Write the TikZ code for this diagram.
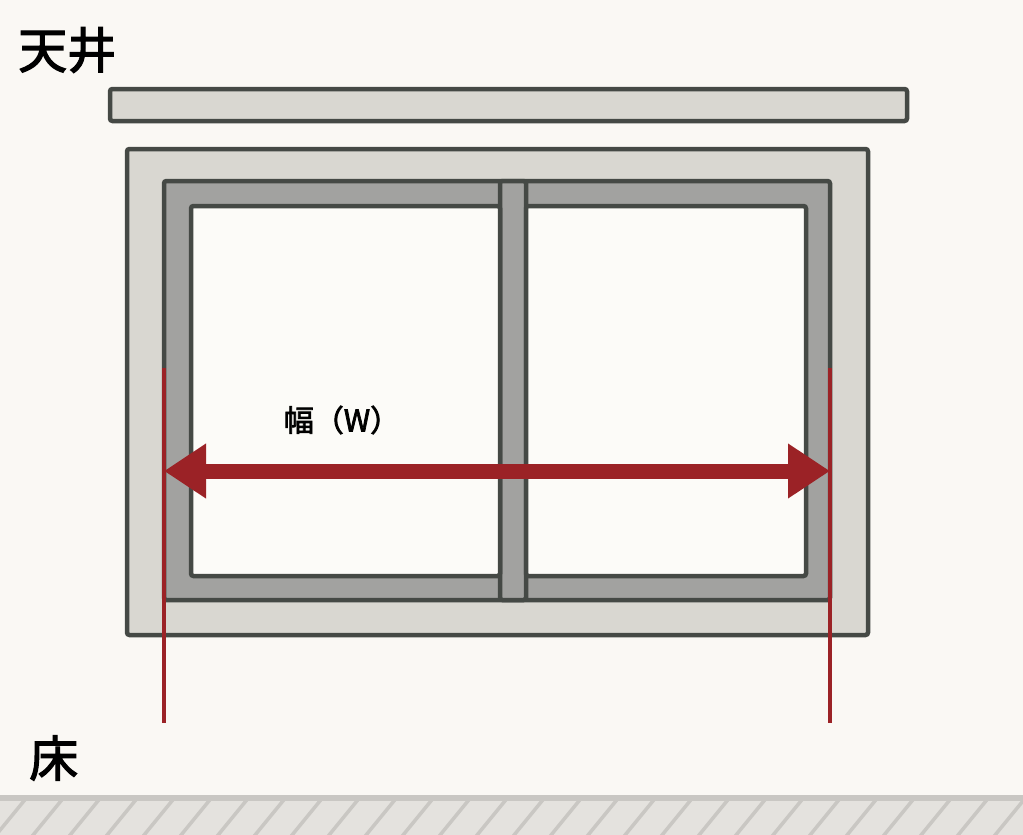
\documentclass[tikz,border=0pt]{standalone}
\usepackage{fontspec}
\newfontfamily\jpfont[AutoFakeBold=2.5]{Noto Sans CJK JP}
\usetikzlibrary{arrows.meta}

\definecolor{wall}{HTML}{FAF8F4}
\definecolor{edge}{HTML}{454945}
\definecolor{framefill}{HTML}{D9D7D1}
\definecolor{sashfill}{HTML}{A2A2A0}
\definecolor{glass}{HTML}{FCFBF8}
\definecolor{dimred}{HTML}{9B2226}
\definecolor{floorline}{HTML}{C9C7C3}
\definecolor{floorfill}{HTML}{E4E2DE}

\tikzset{
    part/.style={draw=edge, line width=4.5pt, rounded corners=2.5pt},
    label/.style={text=black, inner sep=0pt, font=\jpfont\bfseries},
    dimline/.style={draw=dimred, line width=3.5pt},
}

\begin{document}
\begin{tikzpicture}[x=1pt, y=-1pt]

\useasboundingbox (0,0) rectangle (1023,835);
\fill [wall] (0,0) rectangle (1023,835);

% floor
\fill [floorfill] (0,800) rectangle (1023,835);
\begin{scope}
    \clip (0,800) rectangle (1023,835);
    \foreach \i in {-1,...,28}
        \draw [floorline, line width=3.5pt] (\i*37-8,840) -- (\i*37+28,796);
\end{scope}
\fill [floorline] (0,795) rectangle (1023,801);

% ceiling board and window
\draw [part, fill=framefill] (110,89) rectangle (907,121);
\draw [part, fill=framefill] (127,149) rectangle (868,635);
\draw [part, fill=sashfill] (164,181) rectangle (830,600);
\draw [part, fill=sashfill] (500,181) rectangle (526,600);
\draw [part, fill=glass] (191,206) rectangle (500,576);
\draw [part, fill=glass] (526,206) rectangle (806,576);

% width dimension
\coordinate (0) at (164,368);
\coordinate (1) at (830,368);
\coordinate (2) at (164,723);
\coordinate (3) at (830,723);
\coordinate (4) at (164,471);
\coordinate (5) at (830,471);

\draw [dimline] (0) -- (2);
\draw [dimline] (1) -- (3);
\draw [draw=dimred, line width=15pt,
    {Triangle[length=42pt, width=52pt]}-{Triangle[length=42pt, width=52pt]}] (4) -- (5);

\node [label, font=\jpfont\bfseries\fontsize{30}{30}\selectfont] (width) at (342,420) {幅（W）};
\node [label, font=\jpfont\bfseries\fontsize{49}{49}\selectfont, anchor=west] (ceiling) at (18,50) {天井};
\node [label, font=\jpfont\bfseries\fontsize{49}{49}\selectfont, anchor=west] (floor) at (29,758) {床};

\end{tikzpicture}
\end{document}
